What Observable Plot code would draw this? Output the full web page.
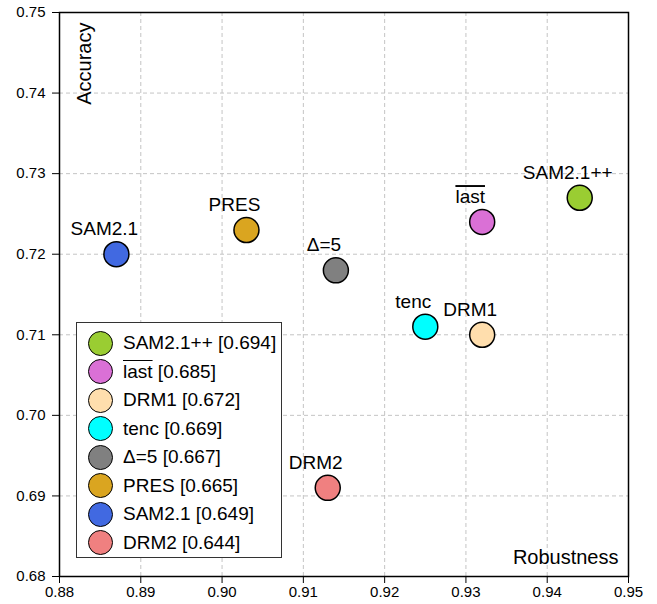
<!DOCTYPE html>
<html>
<head>
<meta charset="utf-8">
<script src="https://cdn.jsdelivr.net/npm/d3@7"></script>
<script src="https://cdn.jsdelivr.net/npm/@observablehq/plot@0.6"></script>
<style>
  html, body { margin: 0; padding: 0; background: #fff; }
  #wrap { position: relative; width: 657px; height: 604px; font-family: "Liberation Sans", Arial, sans-serif; }
  #legend { position: absolute; left: 76px; top: 322px; width: 206px; height: 236px; box-sizing: border-box;
            border: 1px solid #333; background: #fff; padding-top: 6px; }
  .row { display: flex; align-items: center; height: 28.5px; font-size: 19px; color: #000; }
  .sw { width: 25px; height: 25px; border-radius: 50%; border: 1.5px solid #000; box-sizing: border-box; margin-left: 11px; margin-right: 10px; }
  .ov { text-decoration: overline; }
</style>
</head>
<body>
<div id="wrap"></div>
<script>
const names = ["SAM2.1++", "last", "DRM1", "tenc", "Δ=5", "PRES", "SAM2.1", "DRM2"];
const robustness = [0.944, 0.932, 0.932, 0.925, 0.914, 0.903, 0.887, 0.913];
const accuracy = [0.727, 0.724, 0.710, 0.711, 0.718, 0.723, 0.720, 0.691];
const scores = [0.694, 0.685, 0.672, 0.669, 0.667, 0.665, 0.649, 0.644];
const colors = ["#9acd32", "#da70d6", "#ffdead", "#00ffff", "#808080", "#daa520", "#4169e1", "#f08080"];
const xTicks = [0.88, 0.89, 0.90, 0.91, 0.92, 0.93, 0.94, 0.95];
const yTicks = [0.68, 0.69, 0.70, 0.71, 0.72, 0.73, 0.74, 0.75];

const data = names.map((n, i) => ({name: n, x: robustness[i], y: accuracy[i], score: scores[i]}));

const chart = Plot.plot({
  width: 657,
  height: 604,
  marginLeft: 59,
  marginRight: 29,
  marginTop: 12,
  marginBottom: 28,
  style: {fontFamily: '"Liberation Sans", Arial, sans-serif', fontSize: "15px", color: "#000", background: "#fff"},
  x: {domain: [0.88, 0.95]},
  y: {domain: [0.68, 0.75]},
  color: {domain: names, range: colors},
  marks: [
    Plot.gridX(xTicks, {stroke: "#c4c4c4", strokeOpacity: 1, strokeDasharray: "4,3"}),
    Plot.gridY(yTicks, {stroke: "#c4c4c4", strokeOpacity: 1, strokeDasharray: "4,3"}),
    Plot.frame({stroke: "#000", strokeWidth: 1.5}),
    Plot.axisX(xTicks, {tickSize: 7, tickPadding: 3, fontSize: 15, tickFormat: d => d.toFixed(2), label: null}),
    Plot.axisY(yTicks, {tickSize: 7, tickPadding: 7, fontSize: 15, tickFormat: d => d.toFixed(2), label: null}),
    Plot.dot(data, {x: "x", y: "y", r: 12.5, fill: "name", stroke: "#000", strokeWidth: 1.5}),
    Plot.text(data, {x: "x", y: "y", text: "name", dx: -12, dy: -25, fontSize: 19, fill: "#000"}),
    Plot.text(["Accuracy"], {frameAnchor: "top-left", text: d => d, rotate: -90, textAnchor: "end", dx: 17, dy: 10, fontSize: 20, fill: "#000"}),
    Plot.text(["Robustness"], {frameAnchor: "bottom-right", text: d => d, textAnchor: "end", dx: -10, dy: -13, fontSize: 20, fill: "#000"})
  ]
});

d3.select(chart).selectAll("text").filter(function() { return this.textContent === "last"; })
  .style("text-decoration", "overline");

const wrap = document.getElementById("wrap");
wrap.appendChild(chart);

const legend = document.createElement("div");
legend.id = "legend";
data.forEach((d, i) => {
  const row = document.createElement("div");
  row.className = "row";
  const sw = document.createElement("span");
  sw.className = "sw";
  sw.style.background = colors[i];
  const lab = document.createElement("span");
  const nm = document.createElement("span");
  nm.textContent = d.name;
  if (d.name === "last") nm.className = "ov";
  lab.appendChild(nm);
  lab.appendChild(document.createTextNode(" [" + d.score.toFixed(3) + "]"));
  row.appendChild(sw);
  row.appendChild(lab);
  legend.appendChild(row);
});
wrap.appendChild(legend);
</script>
</body>
</html>
